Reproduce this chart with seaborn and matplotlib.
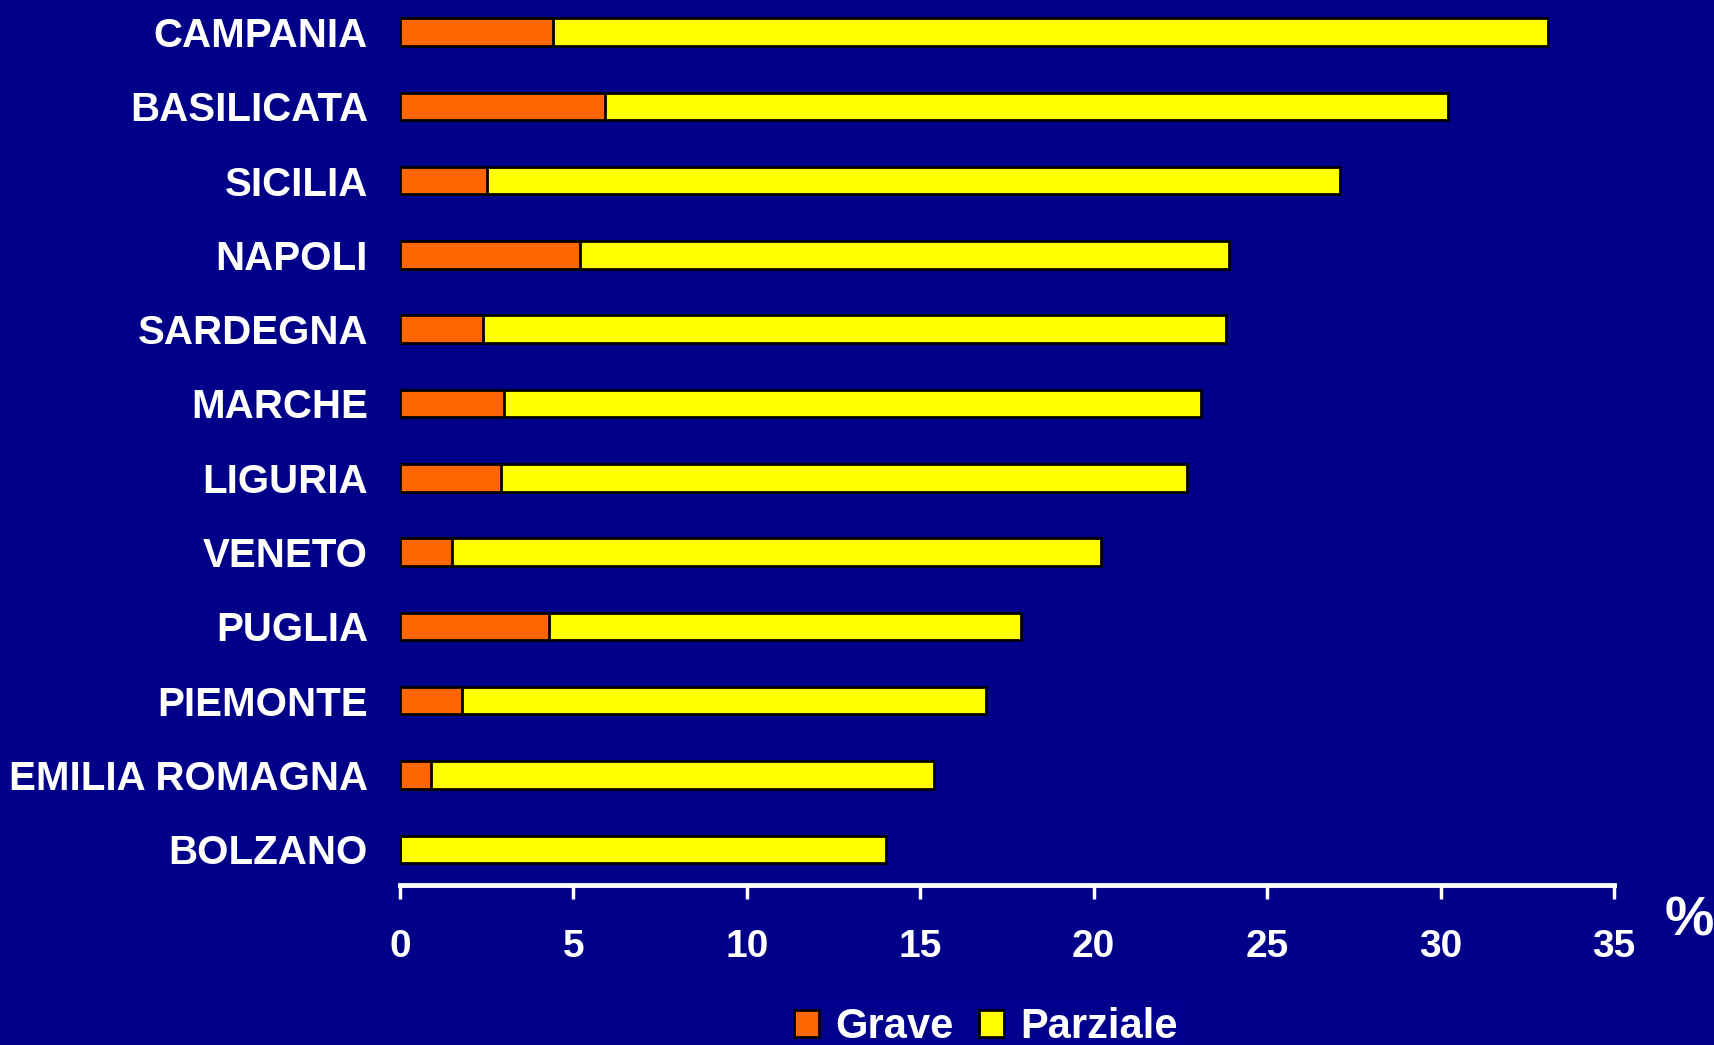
import matplotlib
matplotlib.use("Agg")
import matplotlib.pyplot as plt
import seaborn as sns
import pandas as pd
from matplotlib.patches import Patch

regions = ["CAMPANIA", "BASILICATA", "SICILIA", "NAPOLI", "SARDEGNA", "MARCHE",
           "LIGURIA", "VENETO", "PUGLIA", "PIEMONTE", "EMILIA ROMAGNA", "BOLZANO"]
grave = [4.4, 5.9, 2.5, 5.2, 2.4, 3.0, 2.9, 1.5, 4.3, 1.8, 0.9, 0.0]
parziale = [28.7, 24.3, 24.6, 18.7, 21.4, 20.1, 19.8, 18.7, 13.6, 15.1, 14.5, 14.0]
xticks = [0, 5, 10, 15, 20, 25, 30, 35]

BG = "#000088"
ORANGE = "#FF6600"
YELLOW = "#FFFF00"

sns.set_theme(style="white")
plt.rcParams["font.family"] = ["Liberation Sans", "DejaVu Sans"]

df = pd.DataFrame({"region": regions, "grave": grave, "parziale": parziale})
df["totale"] = df["grave"] + df["parziale"]

fig = plt.figure(figsize=(17.14, 10.45), dpi=100, facecolor=BG)
ax = fig.add_axes([400 / 1714, 1 - 885 / 1045, 1214 / 1714, 885 / 1045])
ax.set_facecolor(BG)

sns.barplot(data=df, x="totale", y="region", color=YELLOW, saturation=1,
            width=0.37, edgecolor="black", linewidth=2, ax=ax)
sns.barplot(data=df, x="grave", y="region", color=ORANGE, saturation=1,
            width=0.37, edgecolor="black", linewidth=2, ax=ax)

ax.set_xlim(0, 35)
ax.set_ylim(len(regions) - 1 + 0.48, -0.43)
ax.set_xticks(xticks)
ax.set_xticklabels([str(t) for t in xticks], fontsize=28, fontweight="bold", color="white")
ax.set_yticks(range(len(regions)))
ax.set_yticklabels(regions, fontsize=29, fontweight="bold", color="white")
ax.set_xlabel("")
ax.set_ylabel("")
for s in ["top", "right", "left"]:
    ax.spines[s].set_visible(False)
ax.spines["bottom"].set_color("white")
ax.spines["bottom"].set_linewidth(3.5)
ax.tick_params(axis="x", bottom=True, direction="out", length=10, width=2.5,
               color="white", pad=22)
ax.tick_params(axis="y", left=False, length=0, pad=23)

fig.text(1689 / 1714, 1 - 921 / 1045, "%", fontsize=40, fontweight="bold",
         color="white", ha="center", va="center")

handles = [Patch(facecolor=ORANGE, edgecolor="black", linewidth=2, label="Grave"),
           Patch(facecolor=YELLOW, edgecolor="black", linewidth=2, label="Parziale")]
leg = fig.legend(handles=handles, loc="upper center", bbox_to_anchor=(986 / 1714, 1 - 1001 / 1045),
                 ncol=2, frameon=True, facecolor="#00008E", edgecolor="#000096",
                 fontsize=30, handlelength=0.6, handleheight=0.6, handletextpad=0.4,
                 columnspacing=0.6, borderpad=0.15, borderaxespad=0.0, fancybox=False)
for t in leg.get_texts():
    t.set_color("white")
    t.set_fontweight("bold")

fig.savefig("out.png", dpi=100, facecolor=BG)
